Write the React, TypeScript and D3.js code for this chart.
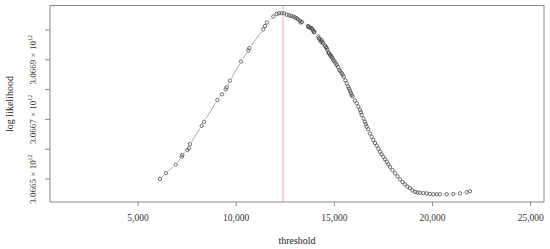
import { useEffect, useRef } from 'react'
import * as d3 from 'd3'

// threshold values (x) and log likelihood in units of 10^12 (y)
const thresholds = [
  6120, 6426, 6920, 7225, 7256, 7511, 7597, 7648, 8244, 8361,
  9039, 9278, 9466, 9517, 9685, 10246, 10617, 10668, 11381, 11468,
  11570, 11891, 12064, 12181, 12319, 12436, 12573, 12909, 13082, 13251,
  13286, 13658, 13673, 13846, 13880, 13964, 13979, 14183, 14210, 14320,
  14356, 14437, 14610, 14640, 14692, 14727, 14865, 14946, 15120, 15253,
  15375, 15629, 15797, 15884, 16138, 16306, 16393, 16561, 16647, 16816,
  16984, 17157, 17326, 17494, 17667, 17834, 18089, 18344, 18598, 18853,
  19107, 19362, 19703, 20040, 20381, 20722, 21058, 21399, 21740, 21908,
  // denser clusters on the falling side
  12700, 12800, 13000, 13150, 13350, 13720, 13780, 13920, 14260, 14390,
  14530, 14570, 14780, 14820, 14900, 15000, 15060, 15180, 15300, 15420,
  15480, 15560, 15700, 15750, 15840, 15930, 16050, 16220, 16350, 16480,
  16600, 16720, 16900, 17070, 17240, 17410, 17580, 17750, 17960, 18220,
  18470, 18720, 18980, 19230, 19530, 19870, 20210,
]
const logLik = [
  3.066500, 3.066520, 3.066548, 3.066575, 3.066581, 3.066597, 3.066603, 3.066617, 3.066678, 3.066692,
  3.066765, 3.066784, 3.066801, 3.066808, 3.066830, 3.066894, 3.066931, 3.066939, 3.067002, 3.067013,
  3.067025, 3.067045, 3.067054, 3.067056, 3.067056, 3.067056, 3.067051, 3.067045, 3.067039, 3.067031,
  3.067025, 3.067013, 3.067011, 3.067006, 3.067002, 3.066992, 3.066994, 3.066978, 3.066972, 3.066961,
  3.066966, 3.066955, 3.066939, 3.066933, 3.066924, 3.066922, 3.066910, 3.066899, 3.066883, 3.066866,
  3.066855, 3.066821, 3.066796, 3.066782, 3.066754, 3.066732, 3.066715, 3.066692, 3.066676, 3.066653,
  3.066631, 3.066612, 3.066592, 3.066575, 3.066558, 3.066541, 3.066519, 3.066499, 3.066482, 3.066469,
  3.066457, 3.066454, 3.066452, 3.066449, 3.066449, 3.066449, 3.066450, 3.066452, 3.066456, 3.066459,
  3.067049, 3.067047, 3.067042, 3.067036, 3.067027, 3.067009, 3.067007, 3.066997, 3.066968, 3.066958,
  3.066947, 3.066943, 3.066917, 3.066913, 3.066905, 3.066895, 3.066889, 3.066876, 3.066862, 3.066850,
  3.066843, 3.066831, 3.066810, 3.066803, 3.066789, 3.066777, 3.066763, 3.066743, 3.066724, 3.066703,
  3.066684, 3.066667, 3.066642, 3.066621, 3.066602, 3.066583, 3.066566, 3.066549, 3.066530, 3.066509,
  3.066490, 3.066475, 3.066462, 3.066455, 3.066453, 3.066450, 3.066449,
]
const xTicks = [5000, 10000, 15000, 20000, 25000]
const yTicks = [3.0665, 3.0666, 3.0667, 3.0668, 3.0669, 3.067]
const yTickLabels = ['3.0665', '3.0667', '3.0669']
const bestThreshold = 12385

const W = 550
const H = 249
const box = { left: 50, right: 544, top: 5.5, bottom: 202 }

function App() {
  const svgRef = useRef<SVGSVGElement>(null)

  useEffect(() => {
    const svg = d3.select(svgRef.current)
    svg.selectAll('*').remove()

    const x = d3.scaleLinear().domain([518, 25677]).range([box.left, box.right])
    const y = d3.scaleLinear().domain([3.066423, 3.067082]).range([box.bottom, box.top])

    const pts = d3.sort(
      thresholds.map((t, i) => [t, logLik[i]] as [number, number]),
      d => d[0]
    )
    const font = 'Liberation Serif, Times New Roman, serif'

    // vertical line at the maximising threshold
    svg.append('line')
      .attr('x1', x(bestThreshold)).attr('x2', x(bestThreshold))
      .attr('y1', box.top).attr('y2', box.bottom)
      .attr('stroke', '#f6b4bc').attr('stroke-width', 1.2)

    const line = d3.line<[number, number]>().x(d => x(d[0])).y(d => y(d[1]))
    svg.append('path')
      .attr('d', line(pts))
      .attr('fill', 'none')
      .attr('stroke', '#8a8a8a')
      .attr('stroke-width', 0.7)

    // gaps around the points like R's type = "b"
    svg.append('g').selectAll('circle')
      .data(pts)
      .join('circle')
      .attr('cx', d => x(d[0]))
      .attr('cy', d => y(d[1]))
      .attr('r', 3)
      .attr('fill', '#fff')

    svg.append('g').selectAll('circle')
      .data(pts)
      .join('circle')
      .attr('cx', d => x(d[0]))
      .attr('cy', d => y(d[1]))
      .attr('r', 1.7)
      .attr('fill', 'none')
      .attr('stroke', '#3a3a3a')
      .attr('stroke-width', 0.7)

    // box
    svg.append('rect')
      .attr('x', box.left).attr('y', box.top)
      .attr('width', box.right - box.left).attr('height', box.bottom - box.top)
      .attr('fill', 'none').attr('stroke', '#888').attr('stroke-width', 1)

    // x axis
    const gx = svg.append('g')
    xTicks.forEach(t => {
      gx.append('line')
        .attr('x1', x(t)).attr('x2', x(t))
        .attr('y1', box.bottom).attr('y2', box.bottom + 4)
        .attr('stroke', '#888')
      gx.append('text')
        .attr('x', x(t)).attr('y', 221)
        .attr('text-anchor', 'middle')
        .attr('font-family', font).attr('font-size', 9.5).attr('fill', '#333')
        .text(d3.format(',')(t))
    })
    svg.append('text')
      .attr('x', 297).attr('y', 244)
      .attr('text-anchor', 'middle')
      .attr('font-family', font).attr('font-size', 10).attr('fill', '#222')
      .text('threshold')

    // y axis
    const gy = svg.append('g')
    yTicks.forEach(t => {
      gy.append('line')
        .attr('x1', box.left - 5).attr('x2', box.left)
        .attr('y1', y(t)).attr('y2', y(t))
        .attr('stroke', '#888')
    })
    yTickLabels.forEach(lbl => {
      const yy = y(+lbl)
      const tx = gy.append('text')
        .attr('transform', `translate(36,${yy}) rotate(-90)`)
        .attr('text-anchor', 'middle')
        .attr('font-family', font).attr('font-size', 9).attr('fill', '#333')
      tx.append('tspan').text(`${lbl} × 10`)
      tx.append('tspan').attr('font-size', 6).attr('dy', -4).text('12')
    })
    svg.append('text')
      .attr('transform', `translate(13,104) rotate(-90)`)
      .attr('text-anchor', 'middle')
      .attr('font-family', font).attr('font-size', 10).attr('fill', '#222')
      .text('log likelihood')
  }, [])

  return (
    <svg
      ref={svgRef}
      width={W}
      height={H}
      style={{ position: 'absolute', left: 0, top: 0, background: '#fff' }}
    />
  )
}

export default App
